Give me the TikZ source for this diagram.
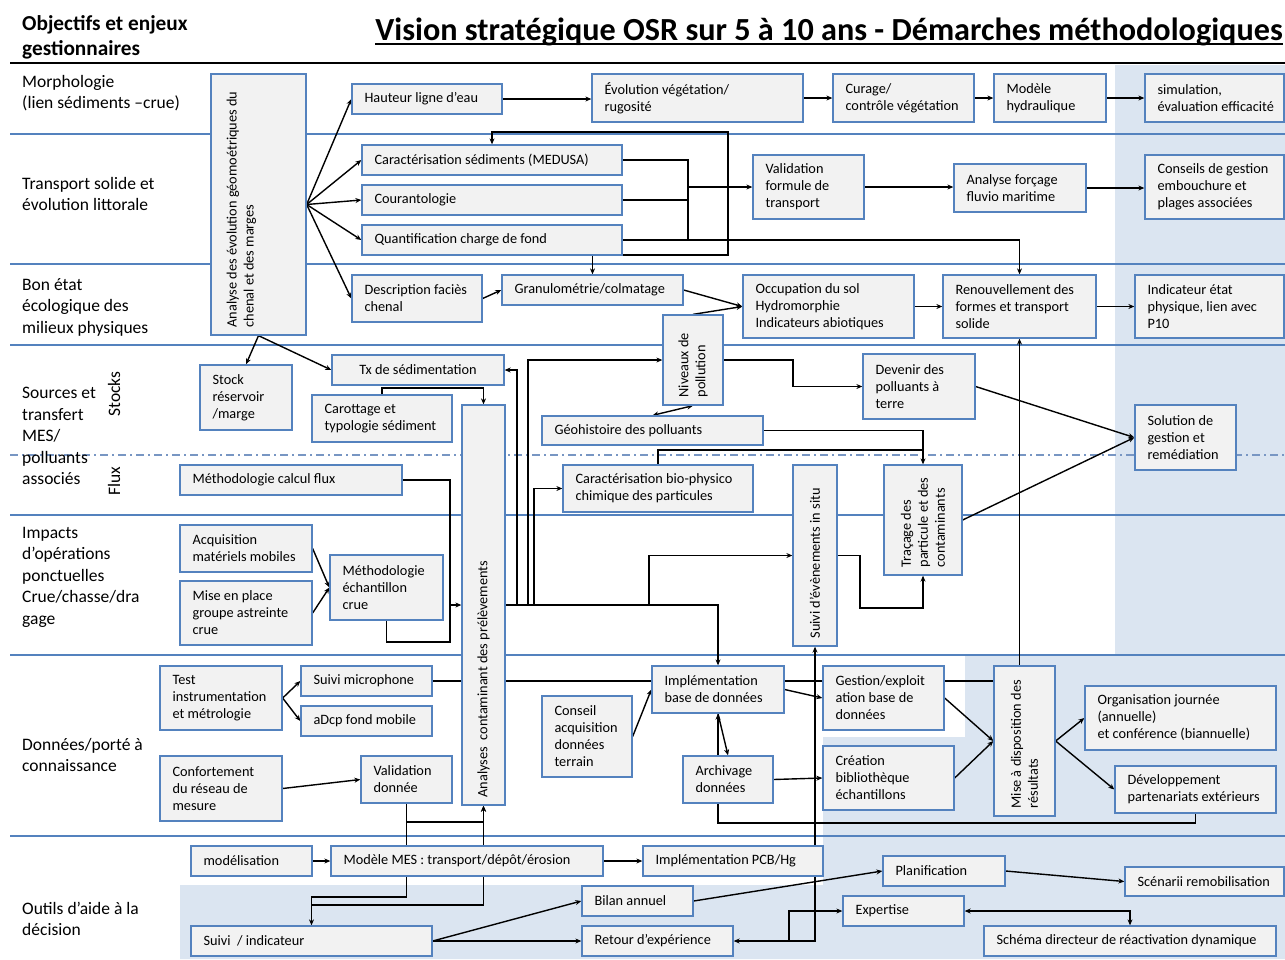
\documentclass[tikz,border=0pt]{standalone}
\usepackage{fontspec}
\setmainfont{Carlito}
\usetikzlibrary{arrows.meta,calc}
\definecolor{bxfill}{RGB}{242,242,242}
\definecolor{bxdraw}{RGB}{84,130,190}
\definecolor{bgblue}{RGB}{219,229,241}
\definecolor{secline}{RGB}{84,130,190}
\definecolor{dashc}{RGB}{120,150,195}
\pgfdeclarelayer{back}\pgfdeclarelayer{conn}\pgfsetlayers{back,conn,main}
\tikzset{
  box/.style={draw=bxdraw,fill=bxfill,line width=1.3pt,inner sep=0pt},
  btext/.style={align=left,inner sep=0pt,font=\fontsize{14.3}{17}\selectfont},
  lab/.style={anchor=west,align=left,inner sep=0pt,font=\fontsize{17.5}{21.5}\selectfont},
  ln/.style={line width=1.4pt,black},
  arr/.style={-{Stealth[length=6pt,width=5pt]}},
  darr/.style={{Stealth[length=6pt,width=5pt]}-{Stealth[length=6pt,width=5pt]}},
  sec/.style={secline,line width=1.5pt}
}
\newcommand\mkbox[6]{%
 \pgfmathsetmacro\qqw{#4-#2}\pgfmathsetmacro\qqh{#5-#3}%
 \pgfmathsetmacro\qqx{(#2+#4)/2}\pgfmathsetmacro\qqy{(#3+#5)/2}%
 \node[box,minimum width=\qqw pt,minimum height=\qqh pt] (#1) at (\qqx,\qqy) {};%
 \node[btext,anchor=west] at ([xshift=13pt]#1.west) {#6};}
\newcommand\mkcbox[6]{%
 \pgfmathsetmacro\qqw{#4-#2}\pgfmathsetmacro\qqh{#5-#3}%
 \pgfmathsetmacro\qqx{(#2+#4)/2}\pgfmathsetmacro\qqy{(#3+#5)/2}%
 \node[box,minimum width=\qqw pt,minimum height=\qqh pt] (#1) at (\qqx,\qqy) {};%
 \node[btext] at (#1.center) {#6};}
\newcommand\mkvbox[7]{%
 \pgfmathsetmacro\qqw{#4-#2}\pgfmathsetmacro\qqh{#5-#3}%
 \pgfmathsetmacro\qqx{(#2+#4)/2}\pgfmathsetmacro\qqy{(#3+#5)/2}%
 \node[box,minimum width=\qqw pt,minimum height=\qqh pt] (#1) at (\qqx,\qqy) {};%
 \node[btext,rotate=90,anchor=west] at ([xshift=#7pt,yshift=8pt]#1.south) {#6};}
\begin{document}
\begin{tikzpicture}[x=1pt,y=-1pt]
\useasboundingbox (0,0) rectangle (1285,959);
\begin{pgfonlayer}{back}
\fill[white] (0,0) rectangle (1285,959);
\fill[bgblue] (1115,65) -- (1285,65) -- (1285,959) -- (180,959) -- (180,885) -- (823,885) -- (823,737) -- (965,737) -- (965,655) -- (1115,655) -- cycle;
\draw[line width=2pt,black] (10,63) -- (1285,63);
\foreach \yy in {134,264,345,515,655,836} {\draw[sec] (10,\yy) -- (1285,\yy);}
\draw[dashc,line width=1.3pt,dash pattern=on 8pt off 4pt on 2pt off 4pt] (10,455) -- (1285,455);
\end{pgfonlayer}

% titles and left labels
\node[anchor=west,align=left,inner sep=0pt,font=\fontsize{21.3}{25}\selectfont\bfseries] (hdr) at (22,37) {Objectifs et enjeux\\gestionnaires};
\node[anchor=base,inner sep=0pt,font=\fontsize{32.2}{36}\selectfont\bfseries] (title) at (829,40) {Vision stratégique OSR sur 5 à 10 ans - Démarches méthodologiques};
\draw[line width=1.8pt] ([yshift=-4pt]title.base west) -- ([yshift=-4pt]title.base east);
\node[lab] (l1) at (22,93) {Morphologie\\(lien sédiments –crue)};
\node[lab] (l2) at (22,194) {Transport solide et\\évolution littorale};
\node[lab] (l3) at (22,307) {Bon état\\écologique des\\milieux physiques};
\node[lab] (l4) at (22,436) {Sources et\\transfert\\MES/\\polluants\\associés};
\node[lab,anchor=center,rotate=90] (l4a) at (114,394) {Stocks};
\node[lab,anchor=center,rotate=90] (l4b) at (114,481) {Flux};
\node[lab] (l5) at (22,577) {Impacts\\d’opérations\\ponctuelles\\Crue/chasse/dra\\gage};
\node[lab] (l6) at (22,755) {Données/porté à\\connaissance};
\node[lab] (l7) at (22,919) {Outils d’aide à la\\décision};

% boxes
\mkvbox{ana}{211}{74}{306}{335}{Analyse des évolution géomoétriques du\\chenal et des marges}{-17}
\mkbox{hau}{352}{84}{502}{114}{Hauteur ligne d’eau}
\mkbox{evo}{592}{74}{803}{122}{Évolution végétation/\\rugosité}
\mkbox{cur}{833}{74}{974}{122}{Curage/\\contrôle végétation}
\mkbox{mod}{994}{74}{1106}{122}{Modèle\\hydraulique}
\mkbox{sim}{1145}{74}{1284}{122}{simulation,\\évaluation efficacité}
\mkbox{car}{362}{145}{622}{175}{Caractérisation sédiments (MEDUSA)}
\mkbox{cou}{362}{185}{622}{215}{Courantologie}
\mkbox{qua}{362}{225}{622}{255}{Quantification charge de fond}
\mkbox{val}{753}{155}{864}{219}{Validation\\formule de\\transport}
\mkbox{afo}{954}{164}{1086}{212}{Analyse forçage\\fluvio maritime}
\mkbox{con}{1145}{155}{1284}{219}{Conseils de gestion\\embouchure et\\plages associées}
\mkbox{des}{352}{275}{482}{322}{Description faciès\\chenal}
\mkbox{gra}{502}{275}{683}{305}{Granulométrie/colmatage}
\mkbox{occ}{743}{275}{914}{338}{Occupation du sol\\Hydromorphie\\Indicateurs abiotiques}
\mkbox{ren}{943}{275}{1096}{338}{Renouvellement des\\formes et transport\\solide}
\mkbox{ind}{1135}{275}{1284}{338}{Indicateur état\\physique, lien avec\\P10}
\mkvbox{niv}{663}{315}{723}{405}{Niveaux de\\pollution}{0}
\mkbox{sto}{200}{365}{292}{430}{Stock\\réservoir\\/marge}
\mkcbox{txs}{332}{355}{504}{385}{Tx de sédimentation}
\mkbox{caro}{312}{395}{452}{442}{Carottage et\\typologie sédiment}
\mkvbox{acp}{462}{405}{505}{805}{Analyses\ \ contaminant des prélèvements}{0}
\mkbox{geo}{542}{416}{763}{445}{Géohistoire des polluants}
\mkbox{dev}{863}{354}{975}{419}{Devenir des\\polluants à\\terre}
\mkbox{sol}{1135}{405}{1236}{470}{Solution de\\gestion et\\remédiation}
\mkbox{mcf}{180}{465}{402}{495}{Méthodologie calcul flux}
\mkbox{cbp}{563}{465}{753}{512}{Caractérisation bio-physico\\chimique des particules}
\mkvbox{sev}{793}{465}{837}{646}{Suivi d’évènements in situ}{0}
\mkvbox{tra}{884}{465}{962}{575}{Traçage des\\particule et des\\contaminants}{0}
\mkbox{acq}{180}{525}{312}{572}{Acquisition\\matériels mobiles}
\mkbox{mep}{180}{581}{312}{645}{Mise en place\\groupe astreinte\\crue}
\mkbox{mec}{330}{555}{443}{620}{Méthodologie\\échantillon\\crue}
\mkbox{tes}{160}{666}{282}{730}{Test\\instrumentation\\et métrologie}
\mkbox{smi}{301}{666}{432}{696}{Suivi microphone}
\mkbox{adc}{301}{706}{432}{736}{aDcp fond mobile}
\mkbox{cfr}{160}{756}{282}{821}{Confortement\\du réseau de\\mesure}
\mkbox{vdo}{361}{756}{452}{803}{Validation\\donnée}
\mkbox{cac}{542}{696}{632}{777}{Conseil\\acquisition\\données\\terrain}
\mkbox{ibd}{652}{666}{784}{713}{Implémentation\\base de données}
\mkbox{arc}{683}{756}{773}{803}{Archivage\\données}
\mkbox{gbd}{823}{666}{944}{730}{Gestion/exploit\\ation base de\\données}
\mkbox{cbe}{823}{746}{954}{810}{Création\\bibliothèque\\échantillons}
\mkvbox{mad}{994}{666}{1055}{816}{Mise à disposition des\\résultats}{0}
\mkbox{org}{1085}{686}{1276}{750}{Organisation journée\\(annuelle)\\et conférence (biannuelle)}
\mkbox{dpe}{1115}{766}{1276}{813}{Développement\\partenariats extérieurs}
\mkbox{mdl}{191}{846}{312}{876}{modélisation}
\mkbox{mms}{331}{846}{603}{876}{Modèle MES : transport/dépôt/érosion}
\mkbox{pcb}{643}{846}{823}{876}{Implémentation PCB/Hg}
\mkbox{bil}{582}{886}{693}{916}{Bilan annuel}
\mkbox{sui}{191}{926}{432}{956}{Suivi\ \ / indicateur}
\mkbox{rex}{582}{926}{733}{956}{Retour d’expérience}
\mkbox{pla}{883}{856}{1005}{886}{Planification}
\mkbox{exq}{843}{896}{964}{926}{Expertise}
\mkbox{sce}{1125}{867}{1284}{896}{Scénarii remobilisation}
\mkbox{sch}{984}{926}{1276}{956}{Schéma directeur de réactivation dynamique}

% junction coordinates
\coordinate (jq) at (688,240);
\coordinate (jv) at (688,187);
\coordinate (lp1) at (728,132);
\coordinate (lp2) at (728,255);
\coordinate (h1) at (517,605);
\coordinate (h2) at (528,605);
\coordinate (h3) at (534,605);
\coordinate (h4) at (649,605);
\coordinate (m1) at (450,605);
\coordinate (m2) at (450,642);
\coordinate (c1) at (382,388);
\coordinate (n1) at (793,360);
\coordinate (t1) at (923,450);
\coordinate (s1) at (860,608);
\coordinate (v1) at (406.5,822);
\coordinate (v2) at (406.5,897);
\coordinate (v4) at (311.5,905);
\coordinate (a1) at (1195.5,823);
\coordinate (r2) at (789,941);

\begin{pgfonlayer}{conn}
\draw[ln,arr] (ana.east) -- (hau.west);
\draw[ln,arr] (ana.east) -- (car.west);
\draw[ln,arr] (ana.east) -- (cou.west);
\draw[ln,arr] (ana.east) -- (qua.west);
\draw[ln,arr] (ana.east) -- (des.west);
\draw[ln,arr] (hau.east) -- (evo.west |- hau.east);
\draw[ln,arr] (evo.east) -- (cur.west);
\draw[ln,arr] (cur.east) -- (mod.west);
\draw[ln,arr] (mod.east) -- (sim.west);
\draw[ln] (car.east) -| (jq);
\draw[ln] (cou.east) -- (cou.east -| jq);
\draw[ln,arr] (jv) -- (val.west);
\draw[ln,arr] (qua.east) -| (ren.north);
\draw[ln,darr] (car.north) |- (lp1) -- (lp2) -| (gra.north);
\draw[ln,arr] (val.east) -- (afo.west |- val.east);
\draw[ln,arr] (afo.east) -- (con.west |- afo.east);
\draw[ln,arr] (des.east) -- (gra.west);
\draw[ln,arr] (gra.east) -- (occ.west);
\draw[ln,arr] (niv.north) -- (occ.west);
\draw[ln,arr] (occ.east) -- (ren.west);
\draw[ln,arr] (ren.east) -- (ind.west);
\draw[ln,arr] (ana.south) -- (sto.north);
\draw[ln,arr] (ana.south) -- (txs.west);
\draw[ln,arr] (acp.east) -| (ibd.north);
\draw[ln,arr] (h1) |- (txs.east);
\draw[ln,arr] (h2) |- (niv.west);
\draw[ln,arr] (h3) |- (cbp.west);
\draw[ln,arr] (h4) |- (sev.west);
\draw[ln,arr] (caro.north) -- (c1) -| (acp.north);
\draw[ln,arr] (mcf.east) -| (m1) -- (acp.west);
\draw[ln] (mec.south) |- (m2) -- (m1);
\draw[ln,arr] (acq.east) -- (mec.west);
\draw[ln,arr] (mep.east) -- (mec.west);
\draw[ln,darr] (geo.north) -- (niv.south);
\draw[ln,arr] (niv.east) -- (n1) |- (dev.west);
\draw[ln,arr] (geo.east) -| (tra.north);
\draw[ln] (cbp.north) |- (t1);
\draw[ln,arr] (sev.east) -| (s1) -| (tra.south);
\draw[ln,arr] (dev.east) -- (sol.west);
\draw[ln,arr] (tra.east) -- (sol.west);
\draw[ln,arr] (mad.north -| ren.south) -- (ren.south);
\draw[ln,arr] (tes.east) -- (smi.west);
\draw[ln,arr] (tes.east) -- (adc.west);
\draw[ln,arr] (cfr.east) -- (vdo.west);
\draw[ln] (smi.east) -- (smi.east -| ibd.west);
\draw[ln] (ibd.east |- smi.east) -- (gbd.west |- smi.east);
\draw[ln] (gbd.east |- smi.east) -- (mad.west |- smi.east);
\draw[ln,arr] (ibd.east) -- (gbd.west);
\draw[ln] (vdo.south) -- (vdo.south |- mms.north);
\draw[ln,arr] (v1) -| (acp.south);
\draw[ln,arr] (mms.south -| vdo.south) -- (v2) -| (sui.north);
\draw[ln,arr] (v4) -| (acp.south);
\draw[ln,arr] (cac.east) -- (ibd.west);
\draw[ln,arr] (ibd.south |- arc.north) -- (ibd.south);
\draw[ln,arr] (ibd.south) -- (arc.north);
\draw[ln] (ibd.south |- arc.south) |- (a1) -- (dpe.south);
\draw[ln,arr] (arc.east) -- (cbe.west);
\draw[ln,arr] (gbd.east) -- (mad.west);
\draw[ln,arr] (cbe.east) -- (mad.west);
\draw[ln,arr] (mad.east) -- (org.west);
\draw[ln,arr] (mad.east) -- (dpe.west);
\draw[ln,arr] (mdl.east) -- (mms.west);
\draw[ln,arr] (mms.east) -- (pcb.west);
\draw[ln,arr] (sui.east) -- (bil.west);
\draw[ln,arr] (sui.east) -- (rex.west);
\draw[ln,arr] (bil.east) -- (pla.west);
\draw[ln,arr] (pla.east) -- (sce.west);
\draw[ln,darr] (sev.south) -- (sev.south |- rex.east) -- (rex.east);
\draw[ln,arr] (r2) |- (exq.west);
\draw[ln,darr] (exq.east) -| (sch.north);
\end{pgfonlayer}
\end{tikzpicture}
\end{document}
